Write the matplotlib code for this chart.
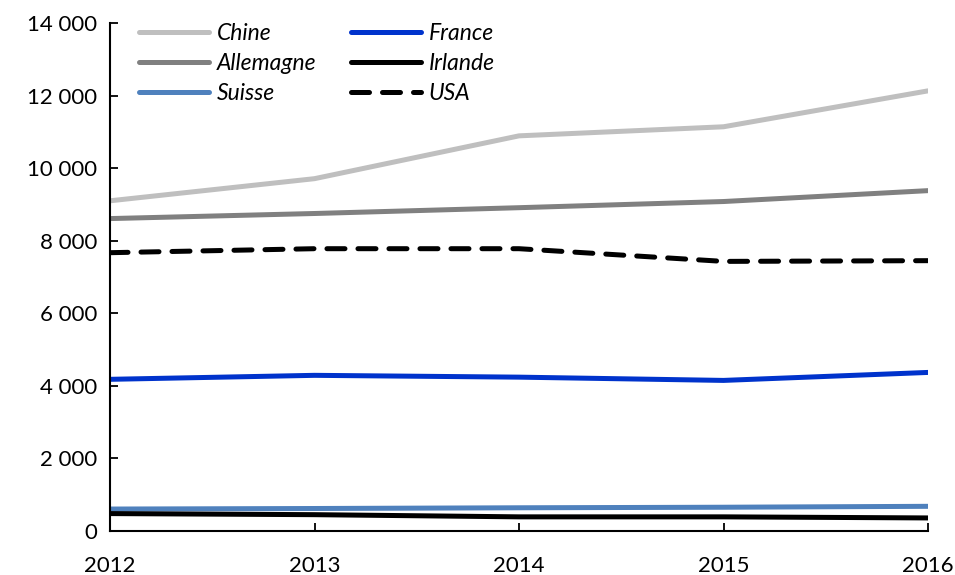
import matplotlib
matplotlib.use("Agg")
import matplotlib.pyplot as plt
from matplotlib.ticker import FuncFormatter

years = [2012, 2013, 2014, 2015, 2016]
chine = [9100, 9710, 10890, 11140, 12130]
allemagne = [8610, 8750, 8910, 9080, 9380]
suisse = [605, 620, 640, 655, 680]
france = [4180, 4290, 4240, 4150, 4370]
irlande = [480, 450, 390, 390, 360]
usa = [7670, 7780, 7780, 7430, 7450]

plt.rcParams['font.family'] = ['Lato', 'DejaVu Sans']

fig = plt.figure(figsize=(9.55, 5.75), dpi=100)
ax = fig.add_axes([110/955, 44/575, (928-110)/955, (531-23)/575])

lw = 3.6
ax.plot(years, chine, color='#bfbfbf', lw=lw, label='Chine', solid_capstyle='round')
ax.plot(years, allemagne, color='#808080', lw=lw, label='Allemagne', solid_capstyle='round')
ax.plot(years, suisse, color='#4f81bd', lw=lw, label='Suisse', solid_capstyle='round')
ax.plot(years, france, color='#0033cc', lw=lw, label='France', solid_capstyle='round')
ax.plot(years, irlande, color='#000000', lw=lw, label='Irlande', solid_capstyle='round')
ax.plot(years, usa, color='#000000', lw=lw, ls=(0, (3.6, 2.6)), label='USA', dash_capstyle='round')

ax.set_xlim(2012, 2016)
ax.set_ylim(0, 14000)
ax.set_xticks(years)
ax.set_yticks(range(0, 14001, 2000))
ax.yaxis.set_major_formatter(FuncFormatter(lambda v, p: f"{int(v):,}".replace(',', ' ')))
for s in ['top', 'right']:
    ax.spines[s].set_visible(False)
for s in ['left', 'bottom']:
    ax.spines[s].set_linewidth(1.5)
ax.tick_params(axis='both', direction='in', length=6, width=1.3, labelsize=16)
ax.tick_params(axis='x', pad=18)
ax.tick_params(axis='y', pad=9)

leg = ax.legend(ncol=2, loc='upper left', bbox_to_anchor=(0.01, 1.04), frameon=False,
                prop={'style': 'italic', 'size': 16.5}, handlelength=3.05, handletextpad=0.35,
                columnspacing=1.5, labelspacing=0.38)

fig.savefig('out.png', dpi=100)
